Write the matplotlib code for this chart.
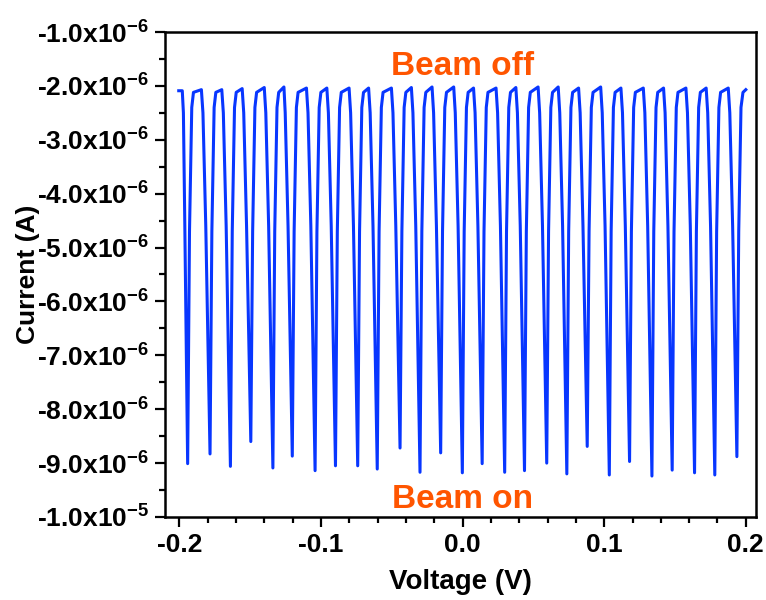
import matplotlib
matplotlib.use("Agg")
import matplotlib.pyplot as plt
from matplotlib.ticker import MultipleLocator
import numpy as np

plt.rcParams['font.family'] = ['Liberation Sans', 'DejaVu Sans']
plt.rcParams['font.weight'] = 'bold'
plt.rcParams['mathtext.fontset'] = 'custom'
plt.rcParams['mathtext.rm'] = 'Liberation Sans:bold'
plt.rcParams['mathtext.bf'] = 'Liberation Sans:bold'
plt.rcParams['mathtext.default'] = 'bf'

# switching I-V trace, beam toggled on/off; current in uA, voltage in V
# bottom of each "beam on" dip
dip_v = [-0.1942, -0.1784, -0.1640, -0.1496, -0.1340, -0.1203, -0.1042, -0.0898, -0.0741,
         -0.0603, -0.0442, -0.0301, -0.0155, -0.0002, 0.0138, 0.0297, 0.0437, 0.0594,
         0.0736, 0.0880, 0.1036, 0.1179, 0.1337, 0.1480, 0.1638, 0.1781, 0.1937]
dip_i = [-9.01, -8.83, -9.06, -8.60, -9.09, -8.87, -9.14, -9.05, -9.05,
         -9.11, -8.72, -9.17, -8.81, -9.18, -9.01, -9.17, -9.14, -9.00,
         -9.20, -8.69, -9.22, -8.97, -9.24, -9.13, -9.18, -9.22, -8.88]

# falling edge before each dip (plateau end, shoulder, mid-fall)
fall1_v = [-0.1980, -0.1845, -0.1701, -0.1557, -0.1401, -0.1262, -0.1103, -0.0959, -0.0802,
           -0.0664, -0.0503, -0.0362, -0.0216, -0.0063, 0.0077, 0.0236, 0.0376, 0.0533,
           0.0675, 0.0819, 0.0975, 0.1118, 0.1276, 0.1419, 0.1577, 0.1720, 0.1876]
fall2_v = [-0.1972, -0.1834, -0.1690, -0.1546, -0.1390, -0.1253, -0.1092, -0.0948, -0.0791,
           -0.0653, -0.0492, -0.0351, -0.0205, -0.0052, 0.0088, 0.0247, 0.0387, 0.0544,
           0.0686, 0.0830, 0.0986, 0.1129, 0.1287, 0.1430, 0.1588, 0.1731, 0.1887]
fall3_v = [-0.1962, -0.1814, -0.1670, -0.1526, -0.1370, -0.1233, -0.1072, -0.0928, -0.0771,
           -0.0633, -0.0472, -0.0331, -0.0185, -0.0032, 0.0108, 0.0267, 0.0407, 0.0564,
           0.0706, 0.0850, 0.1006, 0.1149, 0.1307, 0.1450, 0.1608, 0.1751, 0.1907]

# rising edge after each dip (mid-rise, knee, plateau start)
rise1_v = [-0.1929, -0.1771, -0.1627, -0.1483, -0.1327, -0.1190, -0.1029, -0.0885, -0.0728,
           -0.0590, -0.0429, -0.0288, -0.0142, 0.0011, 0.0151, 0.0310, 0.0450, 0.0607,
           0.0749, 0.0893, 0.1049, 0.1192, 0.1350, 0.1493, 0.1651, 0.1794, 0.1950]
rise2_v = [-0.1913, -0.1755, -0.1611, -0.1467, -0.1311, -0.1174, -0.1013, -0.0869, -0.0712,
           -0.0574, -0.0413, -0.0272, -0.0126, 0.0027, 0.0167, 0.0326, 0.0466, 0.0623,
           0.0765, 0.0909, 0.1065, 0.1208, 0.1366, 0.1509, 0.1667, 0.1810, 0.1966]
rise3_v = [-0.1901, -0.1743, -0.1599, -0.1455, -0.1299, -0.1162, -0.1001, -0.0857, -0.0700,
           -0.0562, -0.0401, -0.0260, -0.0114, 0.0039, 0.0179, 0.0338, 0.0478, 0.0635,
           0.0777, 0.0921, 0.1077, 0.1220, 0.1378, 0.1521, 0.1679, 0.1822, 0.1980]

# "beam off" plateau level before each dip
top_i = [-2.09, -2.07, -2.07, -2.05, -2.03, -2.02, -2.04, -2.04, -2.04,
         -2.04, -2.04, -2.03, -2.02, -2.02, -2.04, -2.04, -2.03, -2.02,
         -2.02, -2.04, -2.02, -2.04, -2.04, -2.04, -2.04, -2.04, -2.04]
fall2_i = -2.5
fall3_i = -4.6
rise1_i = -4.7
rise2_i = -2.4
rise3_i = -2.12
start_v, start_i = -0.2005, -2.09
end_v, end_i = 0.2000, -2.07

y_ticks = [-1.0e-5, -9e-6, -8e-6, -7e-6, -6e-6, -5e-6, -4e-6, -3e-6, -2e-6, -1e-6]
y_tick_labels = ['-1.0x10$^{-5}$', '-9.0x10$^{-6}$', '-8.0x10$^{-6}$', '-7.0x10$^{-6}$',
                 '-6.0x10$^{-6}$', '-5.0x10$^{-6}$', '-4.0x10$^{-6}$', '-3.0x10$^{-6}$',
                 '-2.0x10$^{-6}$', '-1.0x10$^{-6}$']
x_ticks = [-0.2, -0.1, 0.0, 0.1, 0.2]
x_tick_labels = ['-0.2', '-0.1', '0.0', '0.1', '0.2']


def build_trace():
    v = [start_v]
    cur = [start_i]
    for k in range(len(dip_v)):
        v += [fall1_v[k], fall2_v[k], fall3_v[k], dip_v[k], rise1_v[k], rise2_v[k], rise3_v[k]]
        cur += [top_i[k], fall2_i, fall3_i, dip_i[k], rise1_i, rise2_i, rise3_i]
    v.append(end_v)
    cur.append(end_i)
    return np.array(v), np.array(cur) * 1e-6


def main():
    v, cur = build_trace()

    fig = plt.figure(figsize=(7.66, 6.0), dpi=100)
    ax = fig.add_axes([165 / 766, 83 / 600, 591 / 766, 485 / 600])
    ax.plot(v, cur, color='#0836ff', lw=2.2, solid_joinstyle='round')

    ax.set_xlim(-0.2102, 0.2072)
    ax.set_ylim(-1.0e-5, -1.0e-6)
    ax.set_xticks(x_ticks)
    ax.set_xticklabels(x_tick_labels)
    ax.set_yticks(y_ticks)
    ax.set_yticklabels(y_tick_labels)
    ax.xaxis.set_minor_locator(MultipleLocator(0.02))
    ax.yaxis.set_minor_locator(MultipleLocator(0.5e-6))
    ax.tick_params(which='both', direction='out', width=1.6, top=False, right=False)
    ax.tick_params(which='major', length=7.5, labelsize=19, pad=4)
    ax.tick_params(which='minor', length=4)
    for s in ax.spines.values():
        s.set_linewidth(1.8)

    ax.set_xlabel('Voltage (V)', fontsize=20, fontweight='bold', labelpad=9)
    ax.set_ylabel('Current (A)', fontsize=19, fontweight='bold', labelpad=-2)

    ax.text(0.503, 0.911, 'Beam off', transform=ax.transAxes, ha='center', va='baseline',
            color='#ff5500', fontsize=24, fontweight='bold')
    ax.text(0.503, 0.019, 'Beam on', transform=ax.transAxes, ha='center', va='baseline',
            color='#ff5500', fontsize=24, fontweight='bold')

    fig.savefig('out.png', dpi=100)


if __name__ == '__main__':
    main()
